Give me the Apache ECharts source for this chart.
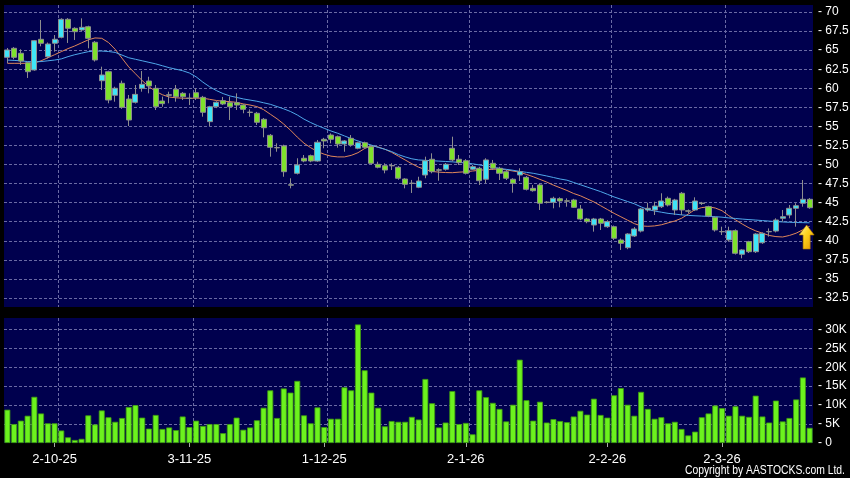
<!DOCTYPE html>
<html>
<head>
<meta charset="utf-8">
<script src="https://cdn.jsdelivr.net/npm/echarts@6/dist/echarts.min.js"></script>
<style>
  html, body { margin: 0; padding: 0; background: #000; }
  #chart { width: 850px; height: 478px; }
</style>
</head>
<body>
<div id="chart"></div>
<script>
// ---------------- DATA ----------------
const dates = [
'2025-09-22','2025-09-23','2025-09-24','2025-09-25','2025-09-26','2025-09-29','2025-09-30',
'2025-10-02','2025-10-03','2025-10-06','2025-10-08','2025-10-09','2025-10-10',
'2025-10-13','2025-10-14','2025-10-15','2025-10-16','2025-10-17',
'2025-10-20','2025-10-21','2025-10-22','2025-10-23','2025-10-24',
'2025-10-27','2025-10-28','2025-10-30','2025-10-31',
'2025-11-03','2025-11-04','2025-11-05','2025-11-06','2025-11-07',
'2025-11-10','2025-11-11','2025-11-12','2025-11-13','2025-11-14',
'2025-11-17','2025-11-18','2025-11-19','2025-11-20','2025-11-21',
'2025-11-24','2025-11-25','2025-11-26','2025-11-27','2025-11-28',
'2025-12-01','2025-12-02','2025-12-03','2025-12-04','2025-12-05',
'2025-12-08','2025-12-09','2025-12-10','2025-12-11','2025-12-12',
'2025-12-15','2025-12-16','2025-12-17','2025-12-18','2025-12-19',
'2025-12-22','2025-12-23','2025-12-24','2025-12-29','2025-12-30','2025-12-31',
'2026-01-02','2026-01-05','2026-01-06','2026-01-07','2026-01-08','2026-01-09',
'2026-01-12','2026-01-13','2026-01-14','2026-01-15','2026-01-16',
'2026-01-19','2026-01-20','2026-01-21','2026-01-22','2026-01-23',
'2026-01-26','2026-01-27','2026-01-28','2026-01-29','2026-01-30',
'2026-02-02','2026-02-03','2026-02-04','2026-02-05','2026-02-06',
'2026-02-09','2026-02-10','2026-02-11','2026-02-12','2026-02-13',
'2026-02-16','2026-02-20','2026-02-23','2026-02-24','2026-02-25','2026-02-26','2026-02-27',
'2026-03-02','2026-03-03','2026-03-04','2026-03-05','2026-03-06',
'2026-03-09','2026-03-10','2026-03-11','2026-03-12','2026-03-13',
'2026-03-16','2026-03-17','2026-03-18','2026-03-19'
];

const openP = [
64.06,65.24,64.59,63.35,62.40,66.42,64.14,65.90,66.68,69.04,
67.86,67.64,68.07,66.03,60.99,62.17,59.08,60.65,58.59,58.16,
59.99,60.95,59.99,58.33,59.15,59.86,59.34,58.70,59.42,58.81,
55.62,57.58,58.37,58.11,58.11,57.80,56.87,56.72,55.93,53.83,
52.23,52.43,47.34,48.85,50.82,51.16,50.46,53.31,53.87,53.65,
52.69,53.44,52.13,52.86,52.34,50.03,49.85,49.87,49.64,48.10,
47.56,47.02,48.63,50.69,49.30,49.38,52.13,50.69,50.50,49.38,
49.51,48.07,50.16,49.51,49.06,48.07,48.63,48.32,46.88,47.32,
45.07,45.05,45.52,45.24,45.35,44.17,42.86,42.07,42.86,41.85,
41.85,40.10,39.10,40.63,41.28,44.04,44.04,44.47,45.57,44.04,
46.23,43.93,44.04,44.94,44.47,43.08,41.22,40.11,41.33,38.23,
39.88,38.57,39.75,41.22,41.28,42.95,43.38,44.26,44.92,45.44
];
const closeP = [
65.02,64.06,63.57,62.17,66.24,65.90,65.80,66.42,69.04,67.86,
67.42,67.99,66.55,63.71,61.74,58.46,60.00,57.50,55.84,59.20,
60.52,60.30,57.58,57.98,59.08,58.89,58.89,58.66,58.76,56.85,
57.58,58.16,57.94,57.58,57.80,57.24,56.83,55.54,54.83,52.26,
52.19,49.06,47.30,49.94,50.46,50.46,52.92,53.09,53.31,52.69,
53.09,52.56,52.86,52.26,50.16,49.64,49.28,49.83,48.20,47.41,
47.52,47.84,50.50,49.06,49.26,50.03,50.60,50.24,48.85,49.72,
47.88,50.60,49.51,48.85,48.20,47.54,49.06,46.75,46.57,44.92,
45.03,45.57,45.22,45.20,44.39,42.86,42.51,42.86,42.30,42.51,
40.33,39.67,40.89,41.55,44.17,44.26,44.56,45.22,44.69,45.35,
44.04,43.89,45.22,44.90,43.25,41.42,41.18,41.33,38.36,38.80,
38.57,40.89,40.98,41.18,42.73,43.16,44.26,44.60,45.44,44.34
];
const lowP = [
63.31,63.80,63.05,61.35,62.30,65.50,63.90,64.80,66.55,65.94,
66.33,67.50,65.24,63.50,59.77,58.03,58.24,57.30,55.05,58.00,
59.55,59.34,57.15,57.58,58.03,58.24,58.46,57.80,58.46,56.27,
55.05,57.40,57.80,55.84,57.15,56.72,56.27,55.18,53.57,51.03,
51.68,48.40,46.88,48.70,50.30,50.30,50.37,52.13,52.78,52.21,
51.68,52.34,52.00,52.10,50.00,49.50,48.85,49.28,48.00,46.88,
46.27,46.90,48.20,48.85,47.88,49.20,50.40,49.94,48.70,49.28,
47.32,47.54,49.28,47.97,47.97,46.31,47.84,46.60,46.44,44.04,
44.90,44.26,44.39,44.47,44.30,42.70,42.30,41.20,41.42,41.70,
40.10,38.80,38.90,40.50,41.10,43.82,43.38,44.30,44.50,43.38,
43.38,43.60,43.90,44.70,43.10,41.20,40.76,39.88,38.20,37.70,
38.40,38.40,39.60,40.54,41.10,42.51,42.95,41.85,44.47,44.20
];
const highP = [
65.28,65.40,65.11,63.50,66.33,68.95,66.00,66.98,69.17,69.20,
68.00,69.17,68.20,66.20,62.83,62.30,60.20,61.00,59.12,60.43,
62.26,61.51,60.43,58.90,59.55,60.43,59.50,59.34,59.99,59.00,
57.70,58.30,58.86,58.90,59.34,57.90,57.24,56.90,56.10,54.00,
52.78,52.60,48.20,50.82,51.25,51.30,53.22,53.50,54.09,53.80,
53.20,53.87,52.99,53.00,52.50,50.37,50.16,50.17,49.80,48.20,
47.98,48.40,51.03,51.47,49.51,50.20,53.65,51.25,50.70,49.94,
49.70,50.82,50.60,49.70,49.28,48.20,49.51,48.50,47.32,47.50,
45.20,45.78,45.70,45.57,45.50,44.69,43.00,43.00,43.00,42.70,
42.00,40.30,41.00,41.80,44.30,44.99,45.13,46.23,45.80,45.50,
46.40,44.10,45.70,45.10,44.60,43.20,41.85,41.85,41.50,38.90,
40.00,41.00,41.10,41.63,42.95,44.04,44.69,44.92,47.97,45.60
];
// Volume in thousands of shares
const volumeK = [
8.8,5.0,5.9,7.2,12.2,7.8,5.2,5.2,3.3,1.5,
0.8,1.1,7.3,4.9,8.6,6.8,5.6,6.6,9.5,10.0,
6.7,3.8,7.4,3.7,4.1,3.4,7.0,4.2,5.9,4.5,
5.0,5.0,2.6,5.0,6.7,3.5,4.1,6.0,9.3,13.9,
6.6,14.4,13.3,16.4,7.3,5.2,9.4,4.2,6.4,6.4,
14.7,13.9,31.3,19.2,13.3,9.3,4.4,5.8,5.6,5.6,
6.9,6.2,16.9,10.5,4.1,5.4,13.7,5.0,5.3,2.3,
13.9,12.1,10.6,9.0,5.7,10.1,22.0,11.3,5.9,10.9,
5.4,6.3,5.8,5.5,7.0,8.5,7.5,11.7,7.4,6.7,
12.6,14.5,10.1,7.2,13.5,9.0,6.4,6.8,5.2,5.6,
3.7,2.0,3.0,6.8,7.8,9.9,9.2,7.2,9.7,7.2,
6.9,12.5,7.0,5.4,11.2,5.7,6.6,11.5,17.3,4.0
];
// Short moving average (orange)
const maShort = [
63.27,63.27,63.27,63.27,63.30,63.60,64.00,64.40,64.80,65.20,
65.55,65.95,66.35,66.60,66.55,66.00,65.10,63.95,62.80,61.90,
61.00,60.20,59.60,59.15,58.85,58.75,58.70,58.68,58.70,58.70,
58.55,58.40,58.30,58.25,58.15,57.95,57.80,57.60,57.20,56.60,
56.00,55.30,54.50,53.60,52.80,52.20,51.70,51.35,51.10,51.00,
51.00,51.20,51.55,52.10,52.45,52.30,52.00,51.60,51.10,50.60,
50.10,49.65,49.35,49.10,49.00,48.95,48.93,49.00,49.05,49.15,
49.25,49.32,49.38,49.40,49.30,49.15,49.00,48.70,48.40,48.05,
47.70,47.30,46.95,46.60,46.20,45.90,45.50,45.10,44.60,44.10,
43.60,43.15,42.70,42.25,41.95,41.90,41.95,42.10,42.35,42.60,
42.95,43.50,44.10,44.35,44.45,44.30,43.95,43.30,42.75,42.20,
41.70,41.30,41.00,40.70,40.55,40.50,40.70,41.00,41.45,41.90
];
// Long moving average (blue)
const maLong = [
63.70,63.65,63.60,63.50,63.48,63.50,63.60,63.70,63.85,64.15,
64.40,64.60,64.80,64.88,64.88,64.82,64.70,64.35,64.00,63.80,
63.60,63.40,63.20,62.95,62.70,62.50,62.30,62.00,61.50,60.80,
60.20,59.70,59.30,59.00,58.80,58.60,58.45,58.30,58.10,57.90,
57.60,57.30,56.95,56.50,55.95,55.50,55.10,54.75,54.40,54.10,
53.75,53.40,53.10,52.80,52.55,52.25,52.00,51.70,51.30,51.00,
50.75,50.60,50.55,50.50,50.45,50.40,50.35,50.28,50.20,50.10,
49.95,49.80,49.65,49.50,49.37,49.25,49.10,48.98,48.85,48.68,
48.50,48.30,48.10,47.95,47.65,47.35,47.05,46.75,46.45,46.10,
45.75,45.45,45.15,44.85,44.45,44.10,43.90,43.75,43.60,43.50,
43.40,43.33,43.28,43.24,43.20,43.16,43.10,43.00,42.93,42.85,
42.78,42.72,42.65,42.58,42.52,42.47,42.43,42.40,42.38,42.36
];
// Axis ticks
const priceTicks = [32.5,35,37.5,40,42.5,45,47.5,50,52.5,55,57.5,60,62.5,65,67.5,70];
const volumeTicksK = [0,5,10,15,20,25,30];
const volumeTopK = 33;
// Buy-signal arrow annotation
const signalArrow = { date: '2026-03-19', price: 40.5 };

// ---------------- CHART ----------------
const NAVY = '#00004E';
const GRIDLINE = { color: '#6a6aa4', width: 1, type: [3, 2] };
const FONT = 'Liberation Sans, Arial, sans-serif';

const isMonthStart = dates.map((d, i) => i > 0 && d.slice(5, 7) !== dates[i - 1].slice(5, 7));
const labelFn = (idx) => isMonthStart[idx];
const splitFn = (idx) => idx > 0 && isMonthStart[idx - 1];
const fmtDate = (d) => {
  const [y, m, dd] = d.split('-');
  return (+dd) + '-' + (+m) + '-' + y.slice(2);
};

const candleData = dates.map((d, i) => [openP[i], closeP[i], lowP[i], highP[i]]);

const chart = echarts.init(document.getElementById('chart'), null, { renderer: 'canvas' });
chart.setOption({
  animation: false,
  backgroundColor: '#000',
  grid: [
    { left: 4, right: 37, top: 5, height: 302, show: true, backgroundColor: NAVY, borderWidth: 0, outerBoundsMode: 'none', containLabel: false },
    { left: 4, right: 37, top: 12, height: 286, outerBoundsMode: 'none', containLabel: false },
    { left: 4, right: 37, top: 318, height: 125, show: true, backgroundColor: NAVY, borderWidth: 0, outerBoundsMode: 'none', containLabel: false }
  ],
  xAxis: [
    { gridIndex: 0, type: 'category', data: dates, boundaryGap: true,
      axisLine: { show: false }, axisTick: { show: false }, axisLabel: { show: false },
      splitLine: { show: true, interval: splitFn, showMaxLine: false, lineStyle: GRIDLINE } },
    { gridIndex: 1, type: 'category', data: dates, boundaryGap: true, show: false },
    { gridIndex: 2, type: 'category', data: dates, boundaryGap: true,
      axisLine: { show: false },
      axisTick: { show: true, alignWithLabel: true, interval: labelFn, length: 4, lineStyle: { color: '#aaaaaa' } },
      axisLabel: { show: true, interval: labelFn, formatter: fmtDate, color: '#ffffff', fontSize: 13, fontFamily: FONT, margin: 10 },
      splitLine: { show: true, interval: splitFn, showMaxLine: false, lineStyle: GRIDLINE } }
  ],
  yAxis: [
    { gridIndex: 0, type: 'value', show: false, min: 0, max: 1 },
    { gridIndex: 1, type: 'value', position: 'right', scale: true,
      min: priceTicks[0], max: priceTicks[priceTicks.length - 1], interval: priceTicks[1] - priceTicks[0],
      axisLine: { show: false }, axisTick: { show: false },
      axisLabel: { color: '#ffffff', fontSize: 12, fontFamily: FONT, margin: 5, formatter: (v) => '- ' + v },
      splitLine: { show: true, lineStyle: GRIDLINE } },
    { gridIndex: 2, type: 'value', position: 'right',
      min: volumeTicksK[0], max: volumeTopK, interval: volumeTicksK[1] - volumeTicksK[0],
      axisLine: { show: false }, axisTick: { show: false },
      axisLabel: { color: '#ffffff', fontSize: 12, fontFamily: FONT, margin: 5, showMaxLabel: false,
        formatter: (v) => volumeTicksK.indexOf(v) < 0 ? '' : (v === 0 ? '- 0' : '- ' + v + 'K') },
      splitLine: { show: true, showMinLine: false, showMaxLine: false, lineStyle: GRIDLINE } }
  ],
  series: [
    { name: 'MA short', type: 'line', xAxisIndex: 1, yAxisIndex: 1, data: maShort,
      showSymbol: false, symbol: 'none', lineStyle: { color: '#E0875A', width: 1 }, z: 2, silent: true },
    { name: 'MA long', type: 'line', xAxisIndex: 1, yAxisIndex: 1, data: maLong,
      showSymbol: false, symbol: 'none', lineStyle: { color: '#4FA8EA', width: 1 }, z: 2, silent: true },
    { name: 'Price', type: 'candlestick', xAxisIndex: 1, yAxisIndex: 1, data: candleData,
      barWidth: '82%', z: 3, silent: true,
      itemStyle: { color: '#3FE4F8', color0: '#7EE22C', borderColor: '#8e8e8e', borderColor0: '#8e8e8e',
                   borderColorDoji: '#9a9a9a', borderWidth: 1 },
      markPoint: {
        silent: true, animation: false,
        symbol: 'path://M7,0L14,10L10.3,10L10.3,24L3.7,24L3.7,10L0,10Z',
        symbolSize: [15, 24], symbolOffset: [-3, 0], symbolKeepAspect: false,
        label: { show: false },
        itemStyle: {
          color: { type: 'linear', x: 0, y: 0, x2: 1, y2: 1,
            colorStops: [{ offset: 0, color: '#FFF6A0' }, { offset: 0.45, color: '#FFD21C' }, { offset: 1, color: '#E39200' }] },
          borderColor: '#B37700', borderWidth: 0.6
        },
        data: [{ coord: [signalArrow.date, signalArrow.price] }]
      } },
    { name: 'Volume', type: 'bar', xAxisIndex: 2, yAxisIndex: 2, data: volumeK,
      barCategoryGap: '12%', silent: true,
      itemStyle: { color: '#6CF21E', borderColor: '#3f9a10', borderWidth: 0.8 } }
  ],
  graphic: [
    { type: 'text', x: 845, y: 471, scaleX: 0.83, originX: 0, originY: 0, silent: true,
      style: { text: 'Copyright by AASTOCKS.com Ltd.', fill: '#ffffff', align: 'right', verticalAlign: 'middle',
               font: '12.5px "Liberation Sans", Arial, sans-serif' } }
  ]
});
</script>
</body>
</html>
